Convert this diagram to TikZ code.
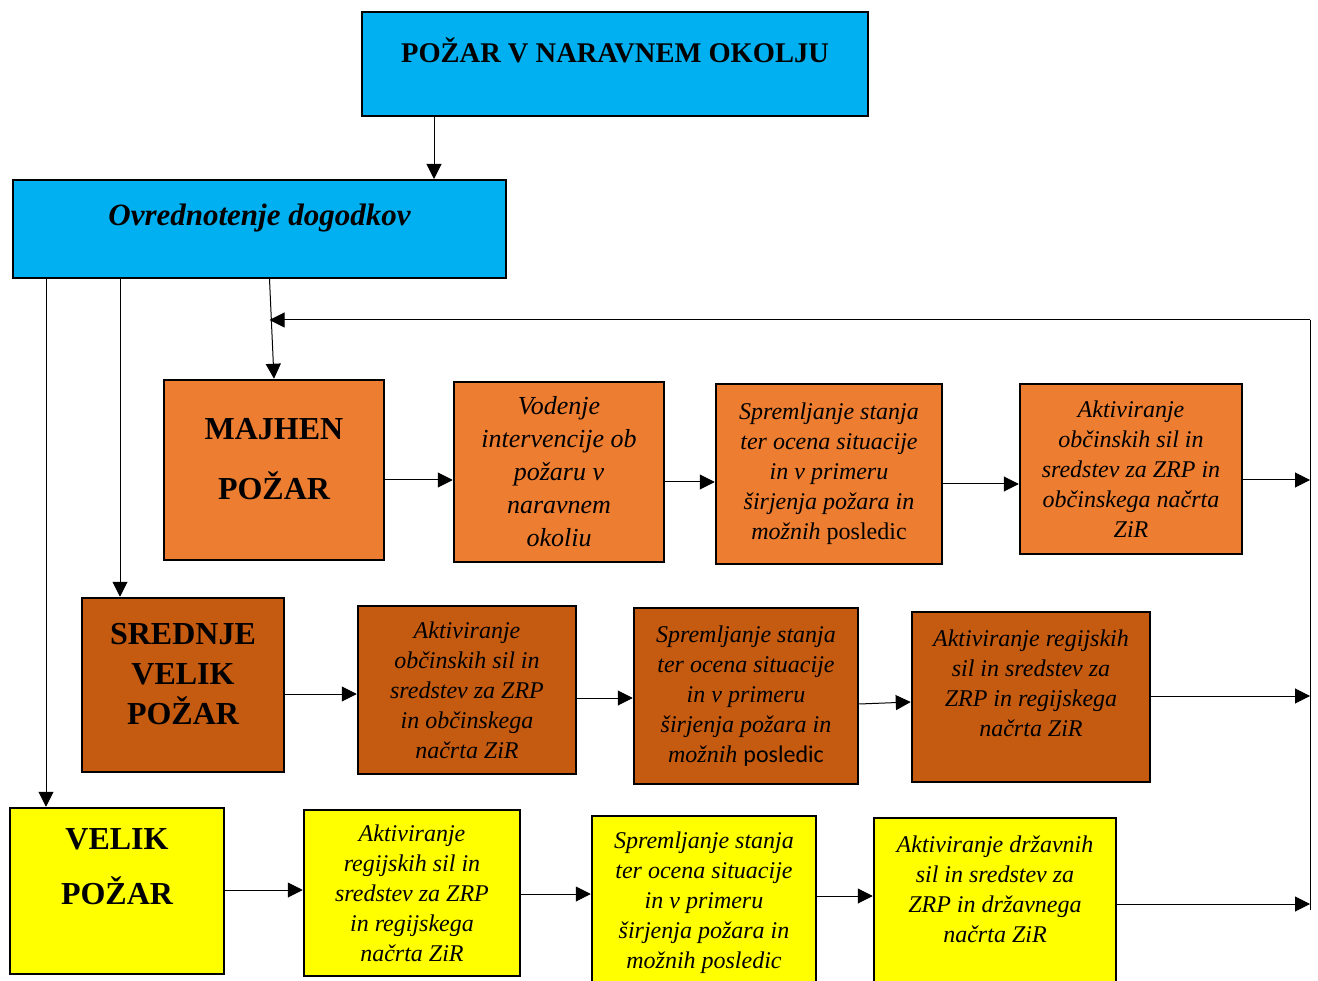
\documentclass[tikz,border=0pt]{standalone}
\usepackage{fontspec}
\setmainfont{Liberation Serif}
\newfontfamily\calfont{Carlito}
\usetikzlibrary{arrows.meta}
\definecolor{nebo}{HTML}{00B0F0}
\definecolor{oranz}{HTML}{ED7D31}
\definecolor{rjava}{HTML}{C55A11}
\definecolor{rumena}{HTML}{FFFF00}

\begin{document}
\begin{tikzpicture}[x=1pt,y=-1pt,
  box/.style={draw,line width=2.5pt,align=center,inner sep=0pt,
    font=\itshape\fontsize{24}{30}\selectfont},
  glava/.style={box,line width=2pt,fill=nebo},
  naslov/.style={box,font=\bfseries\fontsize{32}{40}\selectfont},
  arr/.style={-{Triangle[length=15pt,width=15pt]},line width=1pt},
  crta/.style={line width=1pt}]
 \useasboundingbox (0,0) rectangle (1318,981);
 \clip (0,0) rectangle (1318,981);
 % glava
 \node[glava,minimum width=506,minimum height=104,text depth=28pt,
   font=\bfseries\fontsize{28.5}{34}\selectfont] (top) at (615,64) {POŽAR V NARAVNEM OKOLJU};
 \node[glava,minimum width=493,minimum height=98,text depth=28pt,
   font=\bfseries\itshape\fontsize{31}{36}\selectfont] (ovr) at (259.5,229) {Ovrednotenje dogodkov};
 % majhen pozar
 \node[naslov,fill=oranz,minimum width=220,minimum height=180,text depth=22pt,
   font=\bfseries\fontsize{32}{60}\selectfont] (maj) at (274,470) {MAJHEN\\POŽAR};
 \node[box,fill=oranz,minimum width=210,minimum height=180,
   font=\itshape\fontsize{26}{33}\selectfont] (vod) at (559,472)
   {Vodenje\\intervencije ob\\požaru v\\naravnem\\okoliu};
 \node[box,fill=oranz,minimum width=226,minimum height=180] (spr1) at (829,474)
   {Spremljanje stanja\\ter ocena situacije\\in v primeru\\širjenja požara in\\možnih \upshape posledic};
 \node[box,fill=oranz,minimum width=222,minimum height=170] (akt1) at (1131,469)
   {Aktiviranje\\občinskih sil in\\sredstev za ZRP in\\občinskega načrta\\ZiR};
 % srednje velik pozar
 \node[naslov,fill=rjava,minimum width=202,minimum height=174,text depth=22pt] (sre) at (183,685)
   {SREDNJE\\VELIK\\POŽAR};
 \node[box,fill=rjava,minimum width=218,minimum height=168] (akt2) at (467,690)
   {Aktiviranje\\občinskih sil in\\sredstev za ZRP\\in občinskega\\načrta ZiR};
 \node[box,fill=rjava,minimum width=224,minimum height=176] (spr2) at (746,696)
   {Spremljanje stanja\\ter ocena situacije\\in v primeru\\širjenja požara in\\možnih {\calfont\upshape posledic}};
 \node[box,fill=rjava,minimum width=238,minimum height=170,text depth=28pt] (reg2) at (1031,697)
   {Aktiviranje regijskih\\sil in sredstev za\\ZRP in regijskega\\načrta ZiR};
 % velik pozar
 \node[naslov,fill=rumena,minimum width=214,minimum height=166,text depth=48pt,
   font=\bfseries\fontsize{32}{55}\selectfont] (vel) at (117,891) {VELIK\\POŽAR};
 \node[box,fill=rumena,minimum width=216,minimum height=166] (reg3) at (412,893)
   {Aktiviranje\\regijskih sil in\\sredstev za ZRP\\in regijskega\\načrta ZiR};
 \node[box,fill=rumena,minimum width=224,minimum height=174] (spr3) at (704,903)
   {Spremljanje stanja\\ter ocena situacije\\in v primeru\\širjenja požara in\\možnih posledic};
 \node[box,fill=rumena,minimum width=242,minimum height=174,text depth=32pt] (drz3) at (995,905)
   {Aktiviranje državnih\\sil in sredstev za\\ZRP in državnega\\načrta ZiR};
 % povezave navzdol
 \draw[arr] ([xshift=-181pt]top.south) -- ([xshift=-181pt]top.south |- ovr.north);
 \draw[arr] ([xshift=-71pt]vel.north |- ovr.south) -- ([xshift=-71pt]vel.north);
 \draw[arr] ([xshift=-63pt]sre.north |- ovr.south) -- ([xshift=-63pt]sre.north);
 \draw[arr] ([xshift=10pt]ovr.south) -- (maj.north);
 % povratna zanka
 \coordinate (fbt) at (1310,320);
 \coordinate (fbb) at (1310,910);
 \draw[crta] (fbb) -- (fbt);
 \draw[arr] (fbt) -- ([xshift=10pt]ovr.south |- fbt);
 % vrstice
 \draw[arr] ([yshift=-10pt]maj.east) -- ([yshift=-8pt]vod.west);
 \draw[arr] ([yshift=-10pt]vod.east) -- ([yshift=-8pt]spr1.west);
 \draw[arr] ([yshift=-10pt]spr1.east) -- ([yshift=-15pt]akt1.west);
 \draw[arr] ([yshift=-11pt]akt1.east) -- ([yshift=-11pt]akt1.east -| fbt);
 \draw[arr] ([yshift=-9pt]sre.east) -- ([yshift=-4pt]akt2.west);
 \draw[arr] ([yshift=-8pt]akt2.east) -- ([yshift=-2pt]spr2.west);
 \draw[arr] ([yshift=-8pt]spr2.east) -- ([yshift=-5pt]reg2.west);
 \draw[arr] ([yshift=1pt]reg2.east) -- ([yshift=1pt]reg2.east -| fbt);
 \draw[arr] ([yshift=1pt]vel.east) -- ([yshift=3pt]reg3.west);
 \draw[arr] ([yshift=-1pt]reg3.east) -- ([yshift=9pt]spr3.west);
 \draw[arr] ([yshift=7pt]spr3.east) -- ([yshift=9pt]drz3.west);
 \draw[arr] ([yshift=1pt]drz3.east) -- ([yshift=1pt]drz3.east -| fbt);
\end{tikzpicture}
\end{document}
